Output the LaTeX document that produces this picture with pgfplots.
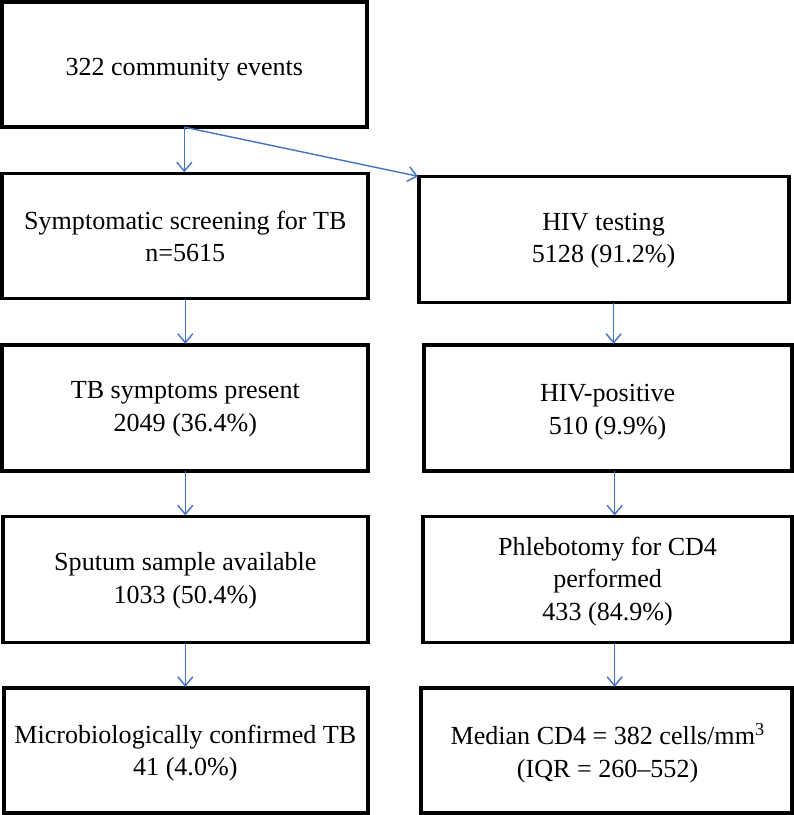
\documentclass[border=0pt]{standalone}
\usepackage{fontspec}
\setmainfont{Liberation Serif}
\usepackage{pgfplots}
\pgfplotsset{compat=1.18}
\usetikzlibrary{arrows.meta}
\definecolor{arrowblue}{RGB}{68,114,196}
\tikzset{
  boxstyle/.style={black,line width=3.5pt,line join=miter,line cap=rect,mark=none},
  arr/.style={arrowblue,line width=1.4pt,mark=none,-{Straight Barb[length=9pt,width=15pt,line width=1.4pt]}},
  txt/.style={align=center,inner sep=0pt,font=\fontsize{26}{32.5}\selectfont}}
\begin{document}
\begin{tikzpicture}
\begin{axis}[width=796pt,height=815pt,scale only axis,
  xmin=0,xmax=796,ymin=0,ymax=815,y dir=reverse,hide axis,clip=false]
% boxes (left column)
\addplot[boxstyle] coordinates {(3,3) (367,3) (367,128) (3,128) (3,3)};
\addplot[boxstyle] coordinates {(3,174) (368,174) (368,299) (3,299) (3,174)};
\addplot[boxstyle] coordinates {(3,345) (368,345) (368,471) (3,471) (3,345)};
\addplot[boxstyle] coordinates {(4,516) (368,516) (368,642) (4,642) (4,516)};
\addplot[boxstyle] coordinates {(5,687) (368,687) (368,812) (5,812) (5,687)};
% boxes (right column)
\addplot[boxstyle] coordinates {(419,177) (788,177) (788,303) (419,303) (419,177)};
\addplot[boxstyle] coordinates {(424,345) (791,345) (791,471) (424,471) (424,345)};
\addplot[boxstyle] coordinates {(423,516) (791,516) (791,642) (423,642) (423,516)};
\addplot[boxstyle] coordinates {(421,687) (791,687) (791,812) (421,812) (421,687)};
% arrows
\addplot[arr] coordinates {(185,128) (185,173)};
\addplot[arr] coordinates {(185,128) (418,177)};
\addplot[arr] coordinates {(186,299) (186,344)};
\addplot[arr] coordinates {(186,471) (186,515)};
\addplot[arr] coordinates {(186,642) (186,686)};
\addplot[arr] coordinates {(613,303) (613,344)};
\addplot[arr] coordinates {(614,471) (614,515)};
\addplot[arr] coordinates {(614,642) (614,686)};
% texts
\node[txt] at (axis cs:185,71) {322 community events};
\node[txt] at (axis cs:186,237) {Symptomatic screening for TB\\n=5615};
\node[txt] at (axis cs:186,409) {TB symptoms present\\2049 (36.4\%)};
\node[txt] at (axis cs:186,580) {Sputum sample available\\1033 (50.4\%)};
\node[txt] at (axis cs:186,752) {Microbiologically confirmed TB\\41 (4.0\%)};
\node[txt] at (axis cs:603,241) {HIV testing\\5128 (91.2\%)};
\node[txt] at (axis cs:607,412) {HIV-positive\\510 (9.9\%)};
\node[txt] at (axis cs:607,581) {Phlebotomy for CD4\\performed\\433 (84.9\%)};
\node[txt] at (axis cs:607,752) {Median CD4 = 382 cells/mm\textsuperscript{3}\\(IQR = 260\textendash 552)};
\end{axis}
\end{tikzpicture}
\end{document}
